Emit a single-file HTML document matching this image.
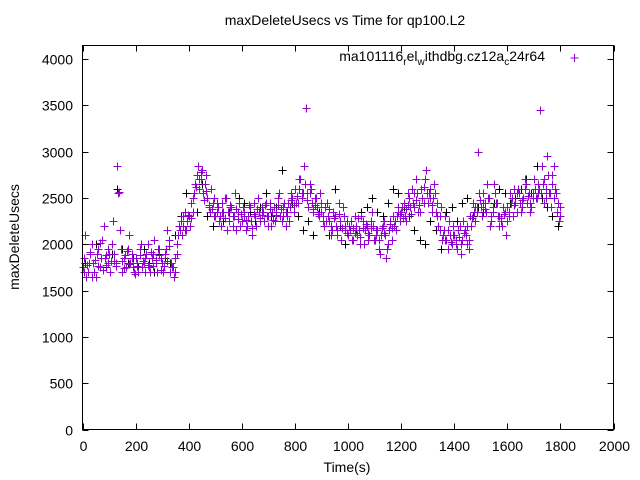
<!DOCTYPE html>
<html><head><meta charset="utf-8"><style>
html,body{margin:0;padding:0;background:#fff}
svg{display:block;font-family:"Liberation Sans",sans-serif}
</style></head><body>
<svg id="chart" width="640" height="480">
<rect x="0" y="0" width="640" height="480" fill="#fff"/>
<text x="345" y="25" font-size="14" text-anchor="middle">maxDeleteUsecs vs Time for qp100.L2</text>
<text x="347" y="472" font-size="14" text-anchor="middle">Time(s)</text>
<text transform="translate(19,237) rotate(-90)" font-size="14" text-anchor="middle">maxDeleteUsecs</text>
<g id="axes"></g>
<g id="marks"></g>
<g>
<text x="545" y="61" font-size="14" text-anchor="end">ma101116<tspan font-size="10" dy="4">r</tspan><tspan dy="-4">el</tspan><tspan font-size="10" dy="4">w</tspan><tspan dy="-4">ithdbg.cz12a</tspan><tspan font-size="10" dy="4">c</tspan><tspan dy="-4">24r64</tspan></text>
<path d="M570.5 58h8M574.5 54v8" stroke="#9400d3" stroke-width="1"/>
</g>
<rect x="82.5" y="45.5" width="531" height="384" fill="none" stroke="#000" stroke-width="1"/>
</svg>
<script>
const xTicks=[0,200,400,600,800,1000,1200,1400,1600,1800,2000];
const yTicks=[0,500,1000,1500,2000,2500,3000,3500,4000];
const seriesA=[1750,2100,1700,1900,1800,1650,1950,1850,2200,1780,
1900,2000,1820,2850,2150,1700,1880,1950,1800,1750,
1850,1700,2000,1800,1900,1750,1850,2050,1700,1950,
1800,1900,2150,1700,1750,1850,2100,2250,2200,2150,
2300,2450,2550,2750,2600,2800,2650,2500,2350,2450,
2300,2400,2200,2350,2500,2250,2400,2300,2150,2450,
2250,2350,2200,2400,2100,2300,2500,2250,2350,2450,
2300,2200,2400,2350,2550,2250,2450,2300,2400,2500,
2600,2450,2700,2550,3470,2400,2600,2350,2500,2300,
2350,2200,2450,2250,2150,2300,2100,2250,2400,2150,
2100,2250,2050,2200,2150,2300,2000,2200,2100,2350,
2050,2150,1900,2200,2100,2000,2250,2300,2150,2400,
2350,2450,2250,2500,2600,2400,2550,2350,2500,2700,
2450,2600,2500,2350,2200,2400,2150,2050,2250,2000,
2100,1950,2200,2050,2150,2000,2300,2450,2250,3000,
2400,2550,2350,2500,2250,2650,2450,2300,2200,2350,
2400,2550,2300,2450,2600,2350,2500,2650,2550,2400,
2700,2500,2600,2850,2450,2950,2550,2750,2600,2450,2400];
const seriesB=[1850,1650,1800,2000,1700,1900,1750,2050,1850,1950,
1700,2250,1800,2550,1950,1850,1750,2100,1900,1700,
1800,1950,1750,1850,2000,1700,1900,1800,1950,1850,
1700,1950,2050,1800,1650,1900,2200,2100,2350,2250,
2200,2350,2650,2850,2700,2550,2750,2400,2600,2300,
2450,2250,2350,2500,2150,2400,2300,2550,2350,2200,
2400,2150,2300,2250,2450,2200,2350,2400,2250,2300,
2450,2350,2250,2500,2300,2400,2200,2450,2550,2350,
2450,2700,2500,2850,2550,2650,2450,2500,2400,2550,
2250,2400,2300,2100,2350,2200,2450,2050,2300,2250,
2200,2050,2300,2100,2000,2250,2150,2050,2250,2200,
2150,1950,2100,2250,1850,2150,2050,2200,2300,2250,
2400,2300,2550,2400,2450,2700,2350,2600,2450,2800,
2550,2350,2650,2450,2300,2050,2300,1950,2100,2200,
2000,2150,1900,2250,2100,1950,2200,2350,2400,2550,
2300,2450,2650,2200,2400,2550,2300,2250,2400,2100,
2300,2450,2600,2350,2550,2400,2700,2450,2350,2500,
2600,2550,3450,2650,2500,2750,2400,2850,2550,2250];
const seriesD=[1700,1780,1920,1650,1830,1760,2010,1720,1880,1800,
1820,1900,1760,2560,1820,1740,1930,1790,1850,1680,
1760,1880,1820,1700,1780,1920,1760,1830,1880,1720,
1760,1820,1980,1750,1700,2000,2150,2300,2150,2320,
2280,2500,2620,2700,2780,2480,2580,2420,2380,2500,
2350,2300,2450,2280,2350,2420,2200,2380,2270,2330,
2300,2260,2420,2180,2330,2380,2280,2320,2420,2200,
2380,2260,2320,2420,2380,2300,2350,2250,2480,2420,
2520,2600,2550,2650,2480,2550,2380,2420,2330,2450,
2300,2250,2380,2200,2280,2150,2330,2180,2200,2120,
2150,2180,2120,2280,2080,2180,2220,2120,2180,2050,
2100,2050,2180,2120,1950,2220,2180,2250,2350,2330,
2280,2380,2420,2330,2550,2480,2420,2500,2620,2550,
2500,2420,2550,2300,2150,2100,2050,2150,2020,2100,
2050,2080,2000,2120,2200,2050,2280,2400,2350,2480,
2450,2380,2500,2300,2350,2450,2200,2280,2330,2250,
2350,2500,2420,2550,2450,2480,2600,2520,2450,2550,
2500,2650,2550,2700,2600,2550,2650,2500,2350,2300];
const seriesC=[1800,1900,2000,1850,1750,1900,2600,1950,1800,1850,1750,1950,1800,1700,1900,1850,1800,2100,2300,2550,2450,2350,2650,2300,2200,2400,2250,2350,2300,2500,2450,2350,2250,2400,2550,2300,2400,2800,2350,2450,2300,2150,2250,2100,2350,2200,2100,2600,2200,2000,2250,2150,2350,2400,2500,2350,2300,2450,2600,2550,2400,2300,2150,2050,2000,2250,2150,1950,2350,2400,2250,2450,2500,2300,2400,2350,2500,2450,2600,2550,2450,2500,2600,2700,2550,2850,2500,2400,2300,2200];
const NS="http://www.w3.org/2000/svg";
const X0=82.5,X1=613.5,Y0=429.5,Y1=45.5;
const YMAX=4146;
function xs(v){return X0+(v-0)/(2000-0)*(X1-X0);}
function ys(v){return Y0-(v-0)/(YMAX-0)*(Y0-Y1);}
const axes=document.getElementById('axes');
const marks=document.getElementById('marks');
xTicks.forEach(t=>{
  const x=Math.round(xs(t))+0.5;
  const p=document.createElementNS(NS,'path');
  p.setAttribute('d',`M${x} ${Y0}v-6M${x} ${Y1}v6`);
  p.setAttribute('stroke','#000');
  
  
  axes.appendChild(p);
  const l=document.createElementNS(NS,'text');
  l.setAttribute('x',x);l.setAttribute('y',451);
  l.setAttribute('font-size','14');l.setAttribute('text-anchor','middle');
  l.textContent=t;
  
  
  axes.appendChild(l);
});
yTicks.forEach(t=>{
  const y=Math.round(ys(t))+0.5;
  const p=document.createElementNS(NS,'path');
  p.setAttribute('d',`M${X0} ${y}h6M${X1} ${y}h-6`);
  p.setAttribute('stroke','#000');
  
  
  axes.appendChild(p);
  const l=document.createElementNS(NS,'text');
  l.setAttribute('x',73);l.setAttribute('y',y+5);
  l.setAttribute('font-size','14');l.setAttribute('text-anchor','end');
  l.textContent=t;
  
  
  axes.appendChild(l);
});
function plus(t,v,color){
  const x=Math.round(xs(t))+0.5,y=Math.round(ys(v))+0.5;
  const p=document.createElementNS(NS,'path');
  p.setAttribute('d',`M${x-4} ${y}h8M${x} ${y-4}v8`);
  p.setAttribute('stroke',color);
  
  
  marks.appendChild(p);
}
seriesC.forEach((v,i)=>plus(10+i*20,v,'#000'));
seriesA.forEach((v,i)=>plus(i*10,v,'#9400d3'));
seriesB.forEach((v,i)=>plus(5+i*10,v,'#9400d3'));
seriesD.forEach((v,i)=>plus(7+i*10,v,'#9400d3'));
</script>
</body></html>
